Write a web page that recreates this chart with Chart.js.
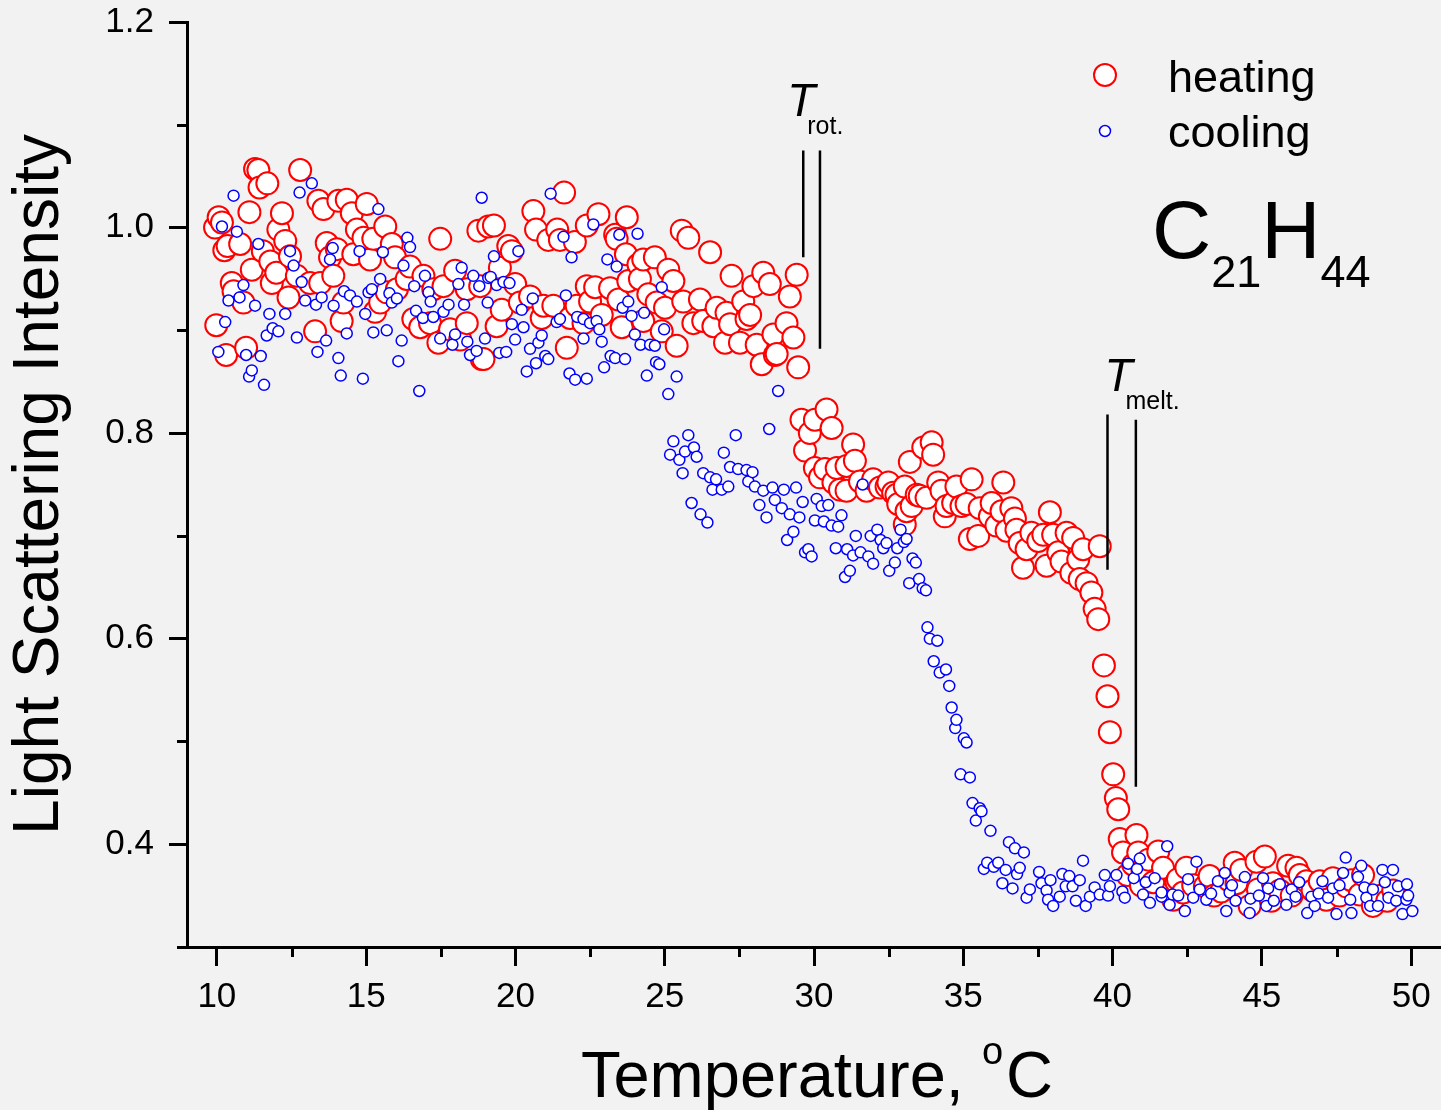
<!DOCTYPE html>
<html>
<head>
<meta charset="utf-8">
<title>C21H44 light scattering</title>
<script src="https://cdn.jsdelivr.net/npm/chart.js@4.4.1/dist/chart.umd.min.js"></script>
<style>
  html, body { margin: 0; padding: 0; background: #f2f2f2; }
  canvas { display: block; }
</style>
</head>
<body>
<canvas id="lsChart" width="1441" height="1110"></canvas>
<script>
// heating run, temperature (C) and intensity
const heatingTemp = [
  9.94, 9.98, 10.06, 10.17, 10.25, 10.31, 10.36, 10.5, 10.56, 10.78, 10.89, 10.98, 11.09, 11.17, 11.28, 11.39,
  11.43, 11.54, 11.69, 11.79, 11.84, 11.99, 12.06, 12.18, 12.29, 12.4, 12.45, 12.68, 12.79, 13.12, 13.29, 13.4,
  13.46, 13.57, 13.68, 13.79, 13.9, 14.02, 14.07, 14.18, 14.24, 14.35, 14.52, 14.57, 14.69, 14.91, 15.02, 15.13,
  15.24, 15.3, 15.47, 15.64, 15.69, 15.86, 15.97, 16.03, 16.36, 16.47, 16.58, 16.81, 16.92, 17.14, 17.25, 17.42,
  17.48, 17.59, 17.81, 17.98, 18.15, 18.37, 18.37, 18.76, 18.82, 18.87, 19.09,
  18.93, 19.28, 19.37, 19.48, 19.54, 19.76, 19.88, 19.99, 20.15, 20.49, 20.6, 20.69, 20.88, 20.94, 21.1, 21.27,
  21.4, 21.49, 21.63, 21.72, 21.83, 21.99, 22.05, 22.28, 22.39, 22.39, 22.5, 22.67, 22.78, 22.89, 23.17, 23.34,
  23.39, 23.45, 23.56, 23.7, 23.73, 23.78, 24.12, 24.17, 24.28, 24.28, 24.45, 24.67, 24.73, 24.9, 25.01, 25.12,
  25.29, 25.4, 25.57, 25.62, 25.79, 25.96, 26.18, 26.29, 26.52, 26.63, 26.74, 27.02, 27.07, 27.19, 27.24, 27.52,
  27.63, 27.74, 27.86, 27.97, 28.08, 28.25, 28.3, 28.52, 28.64, 28.69, 28.75, 29.08, 29.19, 29.31, 29.42, 29.47,
  29.58, 29.7, 29.86, 30.03, 30.03, 30.2, 30.37, 30.42, 30.59, 30.65, 30.76, 30.87, 31.09, 31.09, 31.31, 31.37,
  31.54, 31.76, 31.98, 32.21, 32.43, 32.49, 32.65, 32.76, 32.82, 33.04, 33.04, 33.1, 33.21, 33.27, 33.44, 33.54,
  33.66, 33.77, 33.94, 33.99, 34.16, 34.27, 34.38, 34.44, 34.66, 34.77, 34.94, 35.11, 35.22, 35.28, 35.5, 35.55,
  35.89, 35.95, 36.11, 36.28, 36.34, 36.45, 36.61, 36.73, 36.78, 36.89, 37.0, 37.12, 37.28, 37.51, 37.68, 37.79,
  37.9, 38.01, 38.18, 38.29, 38.46, 38.62, 38.68, 38.85, 38.9, 39.01, 39.13, 39.29, 39.4, 39.52, 39.57, 39.71,
  39.83, 39.91, 40.02, 40.11, 40.19, 40.24, 40.35, 40.5, 40.69, 40.8, 40.86, 40.95, 41.0, 41.2, 41.36, 41.53,
  41.69, 42.03, 42.14, 42.19, 42.36, 42.47, 42.7, 43.09, 43.25, 43.4, 43.64, 43.9, 44.09, 44.15, 44.31, 44.59,
  44.82, 44.87, 45.1, 45.32, 45.37, 45.6, 45.88, 46.0, 46.16, 46.27, 46.49, 46.7, 46.94, 47.16, 47.38, 47.6,
  47.83, 48.0, 48.28, 48.39, 48.72, 49.0, 49.2, 49.4
];
const heatingInt = [
  1.000, 0.905, 1.010, 1.005, 0.978, 0.876, 0.982, 0.946, 0.938, 0.984, 0.927, 0.883, 1.015, 0.959, 1.057, 1.056,
  1.039, 0.977, 1.043, 0.967, 0.946, 0.956, 0.998, 1.014, 0.987, 0.932, 0.972, 0.953, 1.056, 0.946, 0.899, 1.026,
  0.946, 1.018, 0.985, 0.971, 0.953, 0.979, 1.026, 0.909, 0.927, 1.027, 1.014, 0.974, 0.998, 0.990, 1.023, 0.969,
  0.989, 0.918, 0.927, 1.001, 0.937, 0.984, 0.971, 0.940, 0.950, 0.962, 0.911, 0.903, 0.953, 0.907, 0.940, 0.888,
  0.989, 0.943, 0.901, 0.958, 0.891, 0.940, 0.907, 0.997, 0.943, 0.872, 1.001,
  0.872, 1.002, 0.904, 0.961, 0.920, 0.982, 0.977, 0.945, 0.927, 0.933, 1.016, 0.998, 0.912, 0.924, 0.988, 0.924,
  0.998, 0.988, 1.034, 0.883, 0.912, 0.986, 0.924, 0.907, 1.002, 0.943, 0.928, 0.942, 1.013, 0.915, 0.941, 0.993,
  0.989, 0.930, 0.903, 0.974, 1.010, 0.948, 0.964, 0.950, 0.969, 0.909, 0.935, 0.971, 0.927, 0.899, 0.922, 0.959,
  0.948, 0.885, 0.997, 0.928, 0.990, 0.907, 0.930, 0.909, 0.976, 0.904, 0.922, 0.888, 0.917, 0.906, 0.953, 0.888,
  0.928, 0.911, 0.915, 0.943, 0.886, 0.867, 0.956, 0.945, 0.896, 0.876, 0.877, 0.907, 0.933, 0.893, 0.954, 0.864,
  0.813, 0.783, 0.800, 0.813, 0.766, 0.757, 0.765, 0.823, 0.805, 0.752, 0.766, 0.745, 0.768, 0.744, 0.789, 0.773,
  0.753, 0.744, 0.755, 0.747, 0.748, 0.752, 0.742, 0.740, 0.731, 0.748, 0.711, 0.724, 0.772, 0.729, 0.740, 0.739,
  0.786, 0.737, 0.791, 0.779, 0.752, 0.744, 0.719, 0.729, 0.732, 0.748, 0.729, 0.731, 0.697, 0.755, 0.700, 0.727,
  0.719, 0.732, 0.710, 0.724, 0.752, 0.705, 0.727, 0.717, 0.706, 0.693, 0.669, 0.687, 0.703, 0.695, 0.701, 0.671,
  0.723, 0.701, 0.684, 0.675, 0.703, 0.664, 0.698, 0.677, 0.658, 0.687, 0.654, 0.645, 0.629, 0.619, 0.690, 0.574,
  0.544, 0.509, 0.468, 0.445, 0.434, 0.405, 0.392, 0.370, 0.380, 0.409, 0.392, 0.360, 0.375, 0.385, 0.363, 0.393,
  0.377, 0.346, 0.363, 0.366, 0.353, 0.377, 0.360, 0.359, 0.369, 0.350, 0.354, 0.365, 0.382, 0.362, 0.375, 0.340,
  0.383, 0.356, 0.388, 0.345, 0.362, 0.355, 0.379, 0.350, 0.377, 0.370, 0.364, 0.355, 0.364, 0.346, 0.367, 0.350,
  0.359, 0.365, 0.351, 0.370, 0.340, 0.350, 0.345, 0.355
];

// cooling run
const coolingTemp = [
  10.05, 10.17, 10.28, 10.39, 10.56, 10.67, 10.76, 10.89, 10.98, 11.08, 11.17, 11.28, 11.39, 11.47, 11.58, 11.67,
  11.76, 11.87, 12.06, 12.29, 12.45, 12.57, 12.68, 12.77, 12.84, 12.96, 13.18, 13.32, 13.37, 13.51, 13.66, 13.79,
  13.88, 13.91, 14.07, 14.15, 14.26, 14.35, 14.46, 14.69, 14.78, 14.89, 14.97, 15.08, 15.19, 15.24, 15.41, 15.47,
  15.56, 15.69, 15.78, 15.86, 16.03, 16.08, 16.19, 16.25, 16.38, 16.47, 16.61, 16.67, 16.78, 16.9, 16.97, 17.09,
  17.16, 17.25, 17.48, 17.59, 17.76, 17.89, 17.98, 18.09, 18.2, 18.28, 18.39, 18.48, 18.59, 18.7, 18.79, 18.87,
  18.98, 19.07, 19.09,
  19.17, 19.28, 19.37, 19.46, 19.6, 19.69, 19.8, 19.88, 19.99, 20.1, 20.21, 20.27, 20.38, 20.49, 20.58, 20.69,
  20.77, 20.88, 21.0, 21.1, 21.18, 21.38, 21.49, 21.61, 21.69, 21.81, 21.88, 22.0, 22.07, 22.28, 22.28, 22.39,
  22.5, 22.61, 22.72, 22.81, 22.89, 22.97, 23.08, 23.19, 23.34, 23.39, 23.48, 23.59, 23.67, 23.78, 23.89, 24.0,
  24.09, 24.19, 24.31, 24.4, 24.51, 24.67, 24.71, 24.82, 24.9, 24.98, 25.12, 25.4,
  25.18, 25.29, 25.49, 25.6, 25.68, 25.79, 25.9, 25.98, 26.07, 26.2, 26.29, 26.43, 26.52, 26.6, 26.72, 26.91,
  26.98, 27.13, 27.19, 27.38, 27.46, 27.74, 27.8, 27.94, 28.02, 28.17, 28.3, 28.41, 28.5, 28.61, 28.69, 28.8,
  28.92, 28.99, 29.1, 29.19, 29.31, 29.4, 29.51, 29.62, 29.7, 29.81, 29.92, 30.03, 30.09, 30.26, 30.33, 30.48,
  30.59, 30.73, 30.81, 30.92, 31.04, 31.11, 31.2, 31.31, 31.4, 31.56, 31.63, 31.82, 31.9, 31.98, 32.12, 32.23,
  32.32, 32.43, 32.52, 32.71, 32.79, 32.9, 33.01, 33.1, 33.19, 33.3, 33.41, 33.52, 33.64, 33.75, 33.8,
  33.88, 34.01, 34.13, 34.21, 34.42, 34.53, 34.61, 34.73, 34.77, 34.91, 35.02, 35.11, 35.22, 35.31, 35.42, 35.55,
  35.61, 35.69, 35.8, 35.91, 36.02, 36.17, 36.31, 36.42, 36.53, 36.65, 36.73, 36.8, 36.89, 37.03, 37.12, 37.23,
  37.54, 37.62, 37.79, 37.84, 37.92, 38.01, 38.23, 38.32, 38.43, 38.55, 38.66, 38.77, 38.9, 39.01, 39.1, 39.24,
  39.4, 39.57, 39.74, 39.85, 39.91, 40.13, 40.33, 40.41, 40.52, 40.71, 40.82, 40.91, 41.02, 41.11, 41.25, 41.41,
  41.64, 41.64, 41.83, 41.91, 42.01,
  42.2, 42.42, 42.53, 42.7, 42.81, 42.92, 43.14, 43.3, 43.53, 43.76, 43.81, 43.92, 44.0, 44.12, 44.43, 44.59,
  44.62, 44.9, 45.04, 45.15, 45.21, 45.4, 45.6, 45.82, 46.0, 46.13, 46.25, 46.52, 46.66, 46.77, 46.9, 47.03,
  47.22, 47.38, 47.5, 47.6, 47.72, 47.81, 47.96, 48.0, 48.22, 48.33, 48.44, 48.5, 48.63, 48.72, 48.89, 49.04,
  49.12, 49.24, 49.39, 49.5, 49.56, 49.71, 49.84, 49.86, 49.9, 50.04
];
const coolingInt = [
  0.879, 1.001, 0.908, 0.929, 1.031, 0.996, 0.932, 0.944, 0.876, 0.855, 0.861, 0.924, 0.984, 0.875, 0.847, 0.895,
  0.916, 0.902, 0.899, 0.916, 0.977, 0.963, 0.893, 1.034, 0.947, 0.929, 1.043, 0.925, 0.879, 0.932, 0.890, 0.969,
  0.980, 0.924, 0.873, 0.856, 0.938, 0.897, 0.934, 0.928, 0.977, 0.853, 0.916, 0.937, 0.940, 0.898, 1.018, 0.950,
  0.976, 0.900, 0.936, 0.927, 0.931, 0.870, 0.890, 0.963, 0.990, 0.981, 0.943, 0.919, 0.841, 0.912, 0.953, 0.937,
  0.928, 0.913, 0.892, 0.918, 0.925, 0.886, 0.896, 0.945, 0.961, 0.925, 0.889, 0.876, 0.953, 0.880, 0.943, 1.029,
  0.892, 0.927, 0.951,
  0.952, 0.972, 0.944, 0.878, 0.947, 0.879, 0.946, 0.906, 0.891, 0.977, 0.920, 0.903, 0.860, 0.882, 0.931, 0.868,
  0.888, 0.895, 0.875, 0.872, 1.033, 0.908, 0.911, 0.991, 0.934, 0.858, 0.971, 0.852, 0.913, 0.911, 0.892, 0.853,
  0.907, 1.003, 0.909, 0.901, 0.889, 0.864, 0.969, 0.875, 0.873, 0.962, 0.993, 0.922, 0.872, 0.928, 0.914, 0.896,
  0.994, 0.886, 0.917, 0.856, 0.886, 0.885, 0.869, 0.867, 0.942, 0.901, 0.838, 0.855,
  0.779, 0.792, 0.774, 0.761, 0.782, 0.798, 0.732, 0.786, 0.777, 0.721, 0.761, 0.713, 0.757, 0.745, 0.755, 0.745,
  0.781, 0.748, 0.767, 0.798, 0.765, 0.764, 0.753, 0.762, 0.748, 0.730, 0.744, 0.718, 0.804, 0.747, 0.735, 0.841,
  0.727, 0.745, 0.696, 0.721, 0.704, 0.747, 0.718, 0.733, 0.684, 0.687, 0.680, 0.715, 0.736, 0.729, 0.714, 0.730,
  0.710, 0.688, 0.709, 0.720, 0.660, 0.687, 0.666, 0.681, 0.700, 0.684, 0.750, 0.680, 0.700, 0.673, 0.706, 0.696,
  0.688, 0.693, 0.666, 0.674, 0.688, 0.706, 0.694, 0.697, 0.654, 0.678, 0.674, 0.658, 0.649, 0.647, 0.611,
  0.600, 0.578, 0.598, 0.567, 0.570, 0.554, 0.533, 0.513, 0.521, 0.468, 0.503, 0.499, 0.465, 0.440, 0.423, 0.435,
  0.432, 0.376, 0.382, 0.413, 0.378, 0.382, 0.362, 0.375, 0.402, 0.357, 0.396, 0.371, 0.377, 0.392, 0.348, 0.356,
  0.373, 0.362, 0.355, 0.346, 0.365, 0.340, 0.349, 0.371, 0.359, 0.369, 0.359, 0.345, 0.365, 0.384, 0.340, 0.349,
  0.358, 0.351, 0.370, 0.350, 0.359, 0.370, 0.354, 0.348, 0.381, 0.367, 0.376, 0.386, 0.351, 0.363, 0.343, 0.367,
  0.349, 0.353, 0.398, 0.341, 0.351,
  0.350, 0.335, 0.366, 0.348, 0.383, 0.356, 0.346, 0.352, 0.364, 0.372, 0.335, 0.353, 0.360, 0.345, 0.368, 0.333,
  0.347, 0.350, 0.367, 0.340, 0.357, 0.345, 0.361, 0.341, 0.356, 0.349, 0.363, 0.333, 0.349, 0.340, 0.352, 0.364,
  0.348, 0.357, 0.332, 0.360, 0.372, 0.387, 0.346, 0.333, 0.368, 0.379, 0.358, 0.348, 0.340, 0.356, 0.340, 0.375,
  0.363, 0.348, 0.375, 0.345, 0.359, 0.332, 0.346, 0.361, 0.350, 0.335
];

const xTicks = [10, 15, 20, 25, 30, 35, 40, 45, 50];
const xMinorTicks = [12.5, 17.5, 22.5, 27.5, 32.5, 37.5, 42.5, 47.5];
const yTicks = [0.4, 0.6, 0.8, 1.0, 1.2];
const yMinorTicks = [0.5, 0.7, 0.9, 1.1];

// transition markers: [temperature, top, bottom]
const rotLines = [[29.64, 1.075, 0.971], [30.2, 1.075, 0.882]];
const meltLines = [[39.83, 0.818, 0.667], [40.78, 0.813, 0.456]];

const FONT = "'Liberation Sans', Arial, Helvetica, sans-serif";

const toPoints = (xs, ys) => xs.map((t, i) => ({ x: t, y: ys[i] }));

const overlay = {
    id: 'overlay',
    afterDraw(chart) {
        const { ctx, chartArea } = chart;
        const x = chart.scales.x;
        const y = chart.scales.y;
        ctx.save();
        ctx.strokeStyle = '#000';
        ctx.lineCap = 'butt';

        // minor ticks + small overhang of the x axis
        ctx.lineWidth = 3;
        ctx.beginPath();
        xMinorTicks.forEach(v => {
            const px = Math.round(x.getPixelForValue(v)) + 0.5;
            ctx.moveTo(px, chartArea.bottom);
            ctx.lineTo(px, chartArea.bottom + 10);
        });
        yMinorTicks.forEach(v => {
            const py = Math.round(y.getPixelForValue(v)) + 0.5;
            ctx.moveTo(chartArea.left, py);
            ctx.lineTo(chartArea.left - 10, py);
        });
        ctx.moveTo(chartArea.left - 10, chartArea.bottom + 0.5);
        ctx.lineTo(chartArea.left, chartArea.bottom + 0.5);
        ctx.stroke();

        // transition lines
        ctx.lineWidth = 2.5;
        ctx.beginPath();
        rotLines.concat(meltLines).forEach(([t, top, bottom]) => {
            const px = x.getPixelForValue(t);
            ctx.moveTo(px, y.getPixelForValue(top));
            ctx.lineTo(px, y.getPixelForValue(bottom));
        });
        ctx.stroke();

        ctx.fillStyle = '#000';
        ctx.textBaseline = 'alphabetic';
        ctx.textAlign = 'left';

        // T rot.
        let tx = x.getPixelForValue(rotLines[0][0]) - 16;
        let ty = y.getPixelForValue(rotLines[0][1]) - 34;
        ctx.font = 'italic 46px ' + FONT;
        ctx.fillText('T', tx, ty);
        ctx.font = '25px ' + FONT;
        ctx.fillText('rot.', tx + 20, ty + 18);

        // T melt.
        tx = x.getPixelForValue(meltLines[0][0]) - 3;
        ty = y.getPixelForValue(meltLines[0][1]) - 24;
        ctx.font = 'italic 46px ' + FONT;
        ctx.fillText('T', tx, ty);
        ctx.font = '25px ' + FONT;
        ctx.fillText('melt.', tx + 21, ty + 18);

        // legend
        ctx.lineWidth = 2;
        ctx.strokeStyle = '#ff0000';
        ctx.fillStyle = '#ffffff';
        ctx.beginPath();
        ctx.arc(1105, 75, 11, 0, Math.PI * 2);
        ctx.fill();
        ctx.stroke();
        ctx.lineWidth = 1.5;
        ctx.strokeStyle = '#0000ff';
        ctx.beginPath();
        ctx.arc(1105, 131, 5.5, 0, Math.PI * 2);
        ctx.fill();
        ctx.stroke();
        ctx.fillStyle = '#000';
        ctx.font = '45px ' + FONT;
        ctx.fillText('heating', 1168, 92);
        ctx.fillText('cooling', 1168, 147);

        // formula C21H44
        let fx = 1152;
        const parts = [['C', 82, 258], ['21', 45, 287], ['H', 82, 258], ['44', 45, 287]];
        parts.forEach(([s, size, base]) => {
            ctx.font = size + 'px ' + FONT;
            ctx.fillText(s, fx, base);
            fx += ctx.measureText(s).width;
        });

        // x axis title with superscript o
        const big = '65px ' + FONT;
        const small = '38px ' + FONT;
        ctx.font = big;
        const w1 = ctx.measureText('Temperature, ').width;
        const w3 = ctx.measureText('C').width;
        ctx.font = small;
        const w2 = ctx.measureText('o').width + 3;
        const cx = (chartArea.left + chartArea.right) / 2 + 3;
        const left = cx - (w1 + w2 + w3) / 2;
        const base = 1097;
        ctx.font = big;
        ctx.fillText('Temperature, ', left, base);
        ctx.font = small;
        ctx.fillText('o', left + w1, base - 33);
        ctx.font = big;
        ctx.fillText('C', left + w1 + w2, base);

        ctx.restore();
    }
};

const ctx = document.getElementById('lsChart').getContext('2d');
const lsChart = new Chart(ctx, {
    type: 'scatter',
    data: {
        datasets: [
            {
                label: 'heating',
                data: toPoints(heatingTemp, heatingInt),
                order: 1,
                pointRadius: 11,
                pointBorderWidth: 2,
                pointBorderColor: '#ff0000',
                pointBackgroundColor: '#ffffff',
                pointHoverRadius: 11
            },
            {
                label: 'cooling',
                data: toPoints(coolingTemp, coolingInt),
                order: 0,
                pointRadius: 5.5,
                pointBorderWidth: 1.5,
                pointBorderColor: '#0000ff',
                pointBackgroundColor: '#ffffff',
                pointHoverRadius: 5.5
            }
        ]
    },
    options: {
        responsive: false,
        animation: false,
        devicePixelRatio: 1,
        layout: {
            autoPadding: false,
            padding: { top: 22, right: 0, bottom: 0, left: 0 }
        },
        plugins: {
            legend: { display: false },
            tooltip: { enabled: false }
        },
        scales: {
            x: {
                type: 'linear',
                min: 9,
                max: 51,
                afterBuildTicks: axis => { axis.ticks = xTicks.map(v => ({ value: v })); },
                afterFit: axis => {
                    axis.height = 163;
                    axis.paddingLeft = 0;
                    axis.paddingRight = 0;
                },
                border: { display: true, color: '#000', width: 3 },
                grid: {
                    drawOnChartArea: false,
                    drawTicks: true,
                    tickLength: 19,
                    tickWidth: 3,
                    tickColor: '#000'
                },
                ticks: {
                    color: '#000',
                    padding: 10,
                    maxRotation: 0,
                    font: { family: FONT, size: 35 },
                    callback: v => String(v)
                },
                title: { display: false }
            },
            y: {
                type: 'linear',
                min: 0.3,
                max: 1.2,
                afterBuildTicks: axis => { axis.ticks = yTicks.map(v => ({ value: v })); },
                afterFit: axis => {
                    axis.width = 187;
                    axis.paddingTop = 0;
                    axis.paddingBottom = 0;
                },
                border: { display: true, color: '#000', width: 3 },
                grid: {
                    drawOnChartArea: false,
                    drawTicks: true,
                    tickLength: 18,
                    tickWidth: 3,
                    tickColor: '#000'
                },
                ticks: {
                    color: '#000',
                    padding: 15,
                    font: { family: FONT, size: 35 },
                    callback: v => Number(v).toFixed(1)
                },
                title: {
                    display: true,
                    text: 'Light Scattering Intensity',
                    color: '#000',
                    padding: { top: 2, bottom: 0 },
                    font: { family: FONT, size: 64 }
                }
            }
        }
    },
    plugins: [overlay]
});
</script>
</body>
</html>
